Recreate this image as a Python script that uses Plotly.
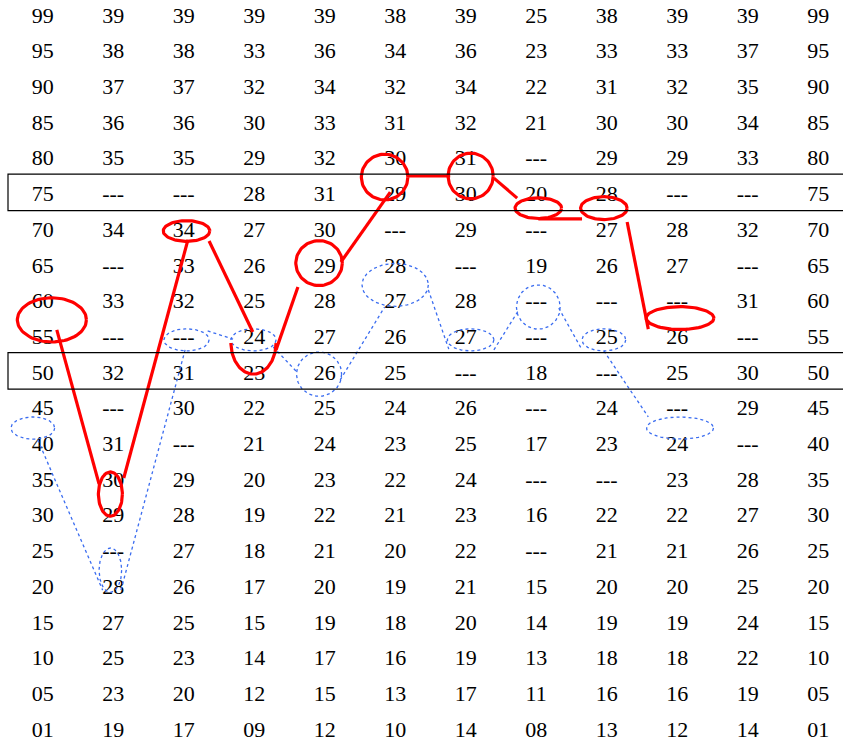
import numpy as np
import plotly.graph_objects as go

# ---------------- data ----------------
percentiles = ["99", "95", "90", "85", "80", "75", "70", "65", "60", "55", "50",
               "45", "40", "35", "30", "25", "20", "15", "10", "05", "01"]
scale1 = ["39", "38", "37", "36", "35", "---", "34", "---", "33", "---", "32",
          "---", "31", "30", "29", "---", "28", "27", "25", "23", "19"]
scale2 = ["39", "38", "37", "36", "35", "---", "34", "33", "32", "---", "31",
          "30", "---", "29", "28", "27", "26", "25", "23", "20", "17"]
scale3 = ["39", "33", "32", "30", "29", "28", "27", "26", "25", "24", "23",
          "22", "21", "20", "19", "18", "17", "15", "14", "12", "09"]
scale4 = ["39", "36", "34", "33", "32", "31", "30", "29", "28", "27", "26",
          "25", "24", "23", "22", "21", "20", "19", "17", "15", "12"]
scale5 = ["38", "34", "32", "31", "30", "29", "---", "28", "27", "26", "25",
          "24", "23", "22", "21", "20", "19", "18", "16", "13", "10"]
scale6 = ["39", "36", "34", "32", "31", "30", "29", "---", "28", "27", "---",
          "26", "25", "24", "23", "22", "21", "20", "19", "17", "14"]
scale7 = ["25", "23", "22", "21", "---", "20", "---", "19", "---", "---", "18",
          "---", "17", "---", "16", "---", "15", "14", "13", "11", "08"]
scale8 = ["38", "33", "31", "30", "29", "28", "27", "26", "---", "25", "---",
          "24", "23", "---", "22", "21", "20", "19", "18", "16", "13"]
scale9 = ["39", "33", "32", "30", "29", "---", "28", "27", "---", "26", "25",
          "---", "24", "23", "22", "21", "20", "19", "18", "16", "12"]
scale10 = ["39", "37", "35", "34", "33", "---", "32", "---", "31", "---", "30",
           "29", "---", "28", "27", "26", "25", "24", "22", "19", "14"]
columns = [percentiles, scale1, scale2, scale3, scale4, scale5, scale6,
           scale7, scale8, scale9, scale10, percentiles]

# highlighted rows
highlight_rows = ["75", "50"]

# red profile: marked positions (column, row index) per scale
red_cols = [0.13, 0.96, 2.04, 2.99, 3.92, 4.85, 6.07, 7.03, 7.96, 9.04]
red_rows = [8.54, 13.42, 6.05, 9.19, 6.95, 4.54, 4.51, 5.41, 5.41, 8.49]
# blue profile
blue_cols = [-0.14, 0.96, 2.04, 2.99, 3.92, 5.00, 6.07, 7.03, 7.96, 9.04]
blue_rows = [11.57, 15.55, 9.10, 9.10, 10.06, 7.56, 9.10, 8.18, 9.10, 11.57]

# ---------------- styling / geometry ----------------
RED = "#ff0000"
BLUE = "#3a6cf0"
red_rx = [0.49, 0.17, 0.33, 0.32, 0.33, 0.33, 0.32, 0.33, 0.33, 0.48]
red_ry = [0.62, 0.62, 0.29, 0.87, 0.63, 0.64, 0.64, 0.29, 0.32, 0.32]
red_arc = [(0, 360)] * 10
red_arc[3] = (0, 180)  # U shape (lower half only)
blue_rx = [0.31, 0.16, 0.32, 0.32, 0.32, 0.47, 0.33, 0.31, 0.31, 0.475]
blue_ry = [0.31, 0.62, 0.31, 0.31, 0.62, 0.60, 0.31, 0.62, 0.31, 0.31]

# connecting segments
red_links = [((0.2, 8.82), (0.80, 13.14)), ((1.15, 12.97), (2.06, 6.30)),
             ((2.36, 6.33), (2.98, 8.88)), ((3.31, 9.38), (3.62, 7.62)),
             ((4.23, 6.92), (4.93, 4.96)), ((5.18, 4.51), (5.78, 4.51)),
             ((6.40, 4.57), (6.73, 5.13)), ((7.03, 5.71), (7.65, 5.71)),
             ((8.29, 5.80), (8.59, 8.80))]
blue_links = [((-0.07, 11.90), (0.85, 16.11)), ((1.11, 16.11), (2.02, 9.38)),
              ((2.34, 8.85), (2.70, 9.08)), ((3.27, 9.30), (3.62, 10.03)),
              ((4.22, 10.22), (4.85, 8.18)), ((5.47, 7.70), (5.76, 9.36)),
              ((6.40, 9.38), (6.76, 8.24)), ((7.32, 8.21), (7.65, 9.38)),
              ((7.96, 9.41), (8.59, 11.26))]

X0, DX = 42.7, 70.5
Y0, DY = 15.0, 35.7
W, H = 843, 744
FONT = "Liberation Serif"
TEXT_DY = 0.06  # small vertical nudge for text baseline

fig = go.Figure()

# table text
for ci, col in enumerate(columns):
    fig.add_trace(go.Scatter(
        x=[ci] * len(col), y=[r + TEXT_DY for r in range(len(col))],
        mode="text", text=col, textposition="middle center",
        textfont=dict(family=FONT, size=22, color="black"),
        hoverinfo="skip", showlegend=False))

# highlight boxes
shapes = []
for hr in highlight_rows:
    r = percentiles.index(hr)
    shapes.append(dict(type="rect", xref="x", yref="y",
                       x0=(8 - X0) / DX, x1=(W + 10 - X0) / DX,
                       y0=r - 0.54, y1=r + 0.48,
                       line=dict(color="black", width=1.2)))


def ellipse(cx, cy, rx, ry, a0, a1):
    t = np.radians(np.linspace(a0, a1, 90))
    return cx + rx * np.cos(t), cy + ry * np.sin(t)


def add_profile(cols, rows, rxs, rys, arcs, links, color, width, dash):
    for cx, cy, rx, ry, (a0, a1) in zip(cols, rows, rxs, rys, arcs):
        ex, ey = ellipse(cx, cy, rx, ry, a0, a1)
        fig.add_trace(go.Scatter(x=ex, y=ey, mode="lines",
                                 line=dict(color=color, width=width, dash=dash),
                                 hoverinfo="skip", showlegend=False))
    for (xa, ya), (xb, yb) in links:
        fig.add_trace(go.Scatter(x=[xa, xb], y=[ya, yb], mode="lines",
                                 line=dict(color=color, width=width, dash=dash),
                                 hoverinfo="skip", showlegend=False))


add_profile(blue_cols, blue_rows, blue_rx, blue_ry, [(0, 360)] * 10,
            blue_links, BLUE, 1.3, "dot")
add_profile(red_cols, red_rows, red_rx, red_ry, red_arc,
            red_links, RED, 3.2, "solid")

fig.update_layout(
    width=W, height=H, margin=dict(l=0, r=0, t=0, b=0),
    paper_bgcolor="white", plot_bgcolor="white", shapes=shapes,
    font=dict(family=FONT),
    xaxis=dict(range=[(0 - X0) / DX, (W - X0) / DX], visible=False,
               fixedrange=True),
    yaxis=dict(range=[(H - Y0) / DY, (0 - Y0) / DY], visible=False,
               fixedrange=True),
)

fig.write_html("out.html", config={"displayModeBar": False},
               post_script="document.body.style.margin='0';"
                           "document.body.style.overflow='hidden';")
